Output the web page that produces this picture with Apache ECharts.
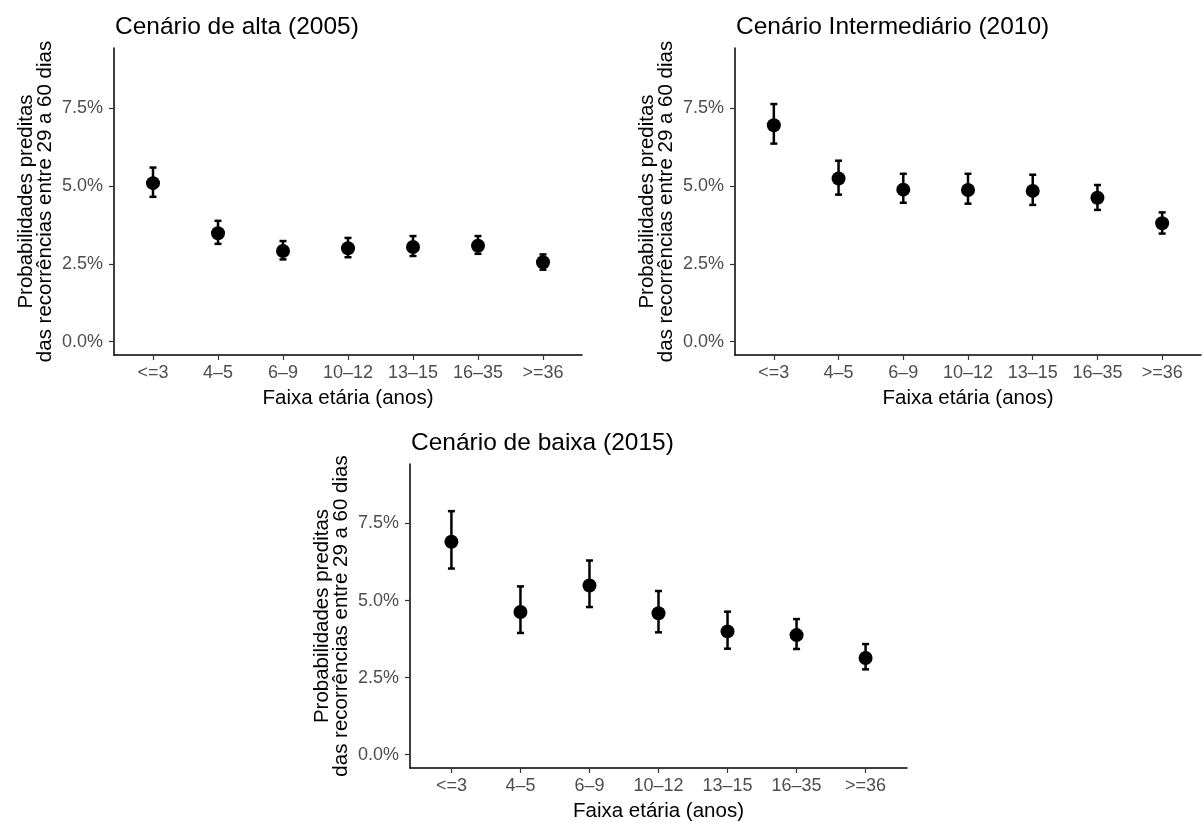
<!DOCTYPE html>
<html>
<head>
<meta charset="utf-8">
<script src="https://cdn.jsdelivr.net/npm/echarts@6/dist/echarts.min.js"></script>
<style>
  html, body { margin: 0; padding: 0; background: #fff; }
  #chart { width: 1203px; height: 823px; }
</style>
</head>
<body>
<div id="chart"></div>
<script>
// faixas etárias
var faixas = ['<=3', '4\u20135', '6\u20139', '10\u201312', '13\u201315', '16\u201335', '>=36'];
var yTicks = [0, 2.5, 5, 7.5];

// Cenário de alta (2005): estimativa, limite inferior, limite superior (%)
var alta = [5.09, 3.48, 2.91, 3.00, 3.04, 3.08, 2.55];
var altaLo = [4.65, 3.14, 2.64, 2.71, 2.75, 2.82, 2.31];
var altaHi = [5.59, 3.88, 3.23, 3.33, 3.39, 3.39, 2.80];

// Cenário Intermediário (2010)
var inter = [6.95, 5.24, 4.88, 4.87, 4.84, 4.62, 3.80];
var interLo = [6.36, 4.72, 4.46, 4.43, 4.39, 4.23, 3.47];
var interHi = [7.63, 5.81, 5.39, 5.39, 5.36, 5.03, 4.15];

// Cenário de baixa (2015)
var baixa = [6.91, 4.63, 5.49, 4.59, 4.00, 3.88, 3.14];
var baixaLo = [6.04, 3.95, 4.79, 3.97, 3.44, 3.43, 2.77];
var baixaHi = [7.90, 5.46, 6.30, 5.31, 4.64, 4.40, 3.59];

var paineis = [
    {titulo: 'Cenário de alta (2005)', y: alta, lo: altaLo, hi: altaHi,
     grid: {left: 114, top: 48, width: 468, height: 307}},
    {titulo: 'Cenário Intermediário (2010)', y: inter, lo: interLo, hi: interHi,
     grid: {left: 735, top: 48, width: 466, height: 307}},
    {titulo: 'Cenário de baixa (2015)', y: baixa, lo: baixaLo, hi: baixaHi,
     grid: {left: 410, top: 464, width: 497, height: 307}}
];

var fonte = 'Liberation Sans, Arial, Helvetica, sans-serif';
var chart = echarts.init(document.getElementById('chart'));

var titles = [], grids = [], xAxes = [], yAxes = [], series = [];

paineis.forEach(function (p, i) {
    titles.push({
        text: p.titulo,
        left: p.grid.left - 4,
        top: p.grid.top - 38,
        textStyle: {color: '#000', fontWeight: 'normal', fontSize: 24.5, fontFamily: fonte}
    });
    grids.push(p.grid);
    xAxes.push({
        gridIndex: i,
        type: 'value',
        min: 0.4,
        max: 7.6,
        name: 'Faixa etária (anos)',
        nameLocation: 'middle',
        nameGap: 33,
        nameTextStyle: {color: '#000', fontSize: 20.5, fontFamily: fonte},
        splitLine: {show: false},
        axisLine: {show: true, onZero: false, lineStyle: {color: '#000', width: 1.5}},
        axisTick: {show: true, length: 5, customValues: [1, 2, 3, 4, 5, 6, 7],
                   lineStyle: {color: '#333', width: 1.2}},
        axisLabel: {
            customValues: [1, 2, 3, 4, 5, 6, 7],
            margin: 9,
            color: '#4d4d4d',
            fontSize: 18,
            fontFamily: fonte,
            formatter: function (v) { return faixas[Math.round(v) - 1]; }
        }
    });
    yAxes.push({
        gridIndex: i,
        type: 'value',
        min: -0.43,
        max: 9.43,
        name: 'Probabilidades preditas\ndas recorrências entre 29 a 60 dias',
        nameLocation: 'middle',
        nameRotate: 90,
        nameGap: 59,
        nameTextStyle: {color: '#000', fontSize: 20.5, lineHeight: 19, fontFamily: fonte},
        splitLine: {show: false},
        axisLine: {show: true, onZero: false, lineStyle: {color: '#000', width: 1.5}},
        axisTick: {show: true, length: 5, customValues: yTicks,
                   lineStyle: {color: '#333', width: 1.2}},
        axisLabel: {
            customValues: yTicks,
            margin: 11,
            color: '#4d4d4d',
            fontSize: 18,
            fontFamily: fonte,
            formatter: function (v) { return v.toFixed(1) + '%'; }
        }
    });

    var barras = p.y.map(function (v, k) { return [k + 1, p.lo[k], p.hi[k]]; });
    series.push({
        type: 'custom',
        xAxisIndex: i,
        yAxisIndex: i,
        data: barras,
        renderItem: function (params, api) {
            var x = api.value(0);
            var a = api.coord([x, api.value(1)]);
            var b = api.coord([x, api.value(2)]);
            var w = 3.5;
            var estilo = {stroke: '#000', lineWidth: 2.5};
            return {
                type: 'group',
                children: [
                    {type: 'line', shape: {x1: a[0], y1: a[1], x2: b[0], y2: b[1]}, style: estilo},
                    {type: 'line', shape: {x1: a[0] - w, y1: a[1], x2: a[0] + w, y2: a[1]}, style: estilo},
                    {type: 'line', shape: {x1: b[0] - w, y1: b[1], x2: b[0] + w, y2: b[1]}, style: estilo}
                ]
            };
        },
        z: 2
    });
    series.push({
        type: 'scatter',
        xAxisIndex: i,
        yAxisIndex: i,
        symbolSize: 14,
        itemStyle: {color: '#000', opacity: 1},
        data: p.y.map(function (v, k) { return [k + 1, v]; }),
        z: 3
    });
});

chart.setOption({
    animation: false,
    title: titles,
    grid: grids,
    xAxis: xAxes,
    yAxis: yAxes,
    series: series
});
</script>
</body>
</html>
